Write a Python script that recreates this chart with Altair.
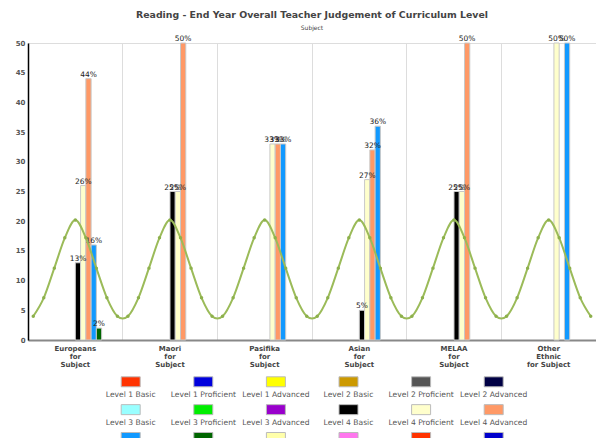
import altair as alt
import pandas as pd

categories = ["Europeans", "Maori", "Pasifika", "Asian", "MELAA", "Other Ethnic"]
series_names = [
    "Level 1 Basic", "Level 1 Proficient", "Level 1 Advanced",
    "Level 2 Basic", "Level 2 Proficient", "Level 2 Advanced",
    "Level 3 Basic", "Level 3 Proficient", "Level 3 Advanced",
    "Level 4 Basic", "Level 4 Proficient", "Level 4 Advanced",
    "Level 5 Basic", "Level 5 Proficient", "Level 5 Advanced",
    "Level 6 Basic", "Level 6 Proficient", "Level 6 Advanced",
]
series_colors = [
    "#ff3300", "#0000dd", "#ffff00", "#cc9900", "#555555", "#000044",
    "#99ffff", "#00ee00", "#9900cc", "#000000", "#ffffcc", "#ff9966",
    "#1199ff", "#006600", "#ffffaa", "#ff77ee", "#ff3300", "#0000cc",
]

# values (percent) per category, only series that have bars
level4_basic = [13, 25, 0, 5, 25, 0]
level4_proficient = [26, 25, 33, 27, 25, 50]
level4_advanced = [44, 50, 33, 32, 50, 0]
level5_basic = [16, 0, 33, 36, 0, 50]
level5_proficient = [2, 0, 0, 0, 0, 0]

# green wavy line (9 points per category)
trend_values = [
    4.0, 7.1, 12.1, 17.2, 20.2, 17.2, 12.1, 7.1, 4.0,
    4.0, 7.1, 12.1, 17.2, 20.2, 17.2, 12.1, 7.1, 4.0,
    4.0, 7.1, 12.1, 17.2, 20.2, 17.2, 12.1, 7.1, 4.0,
    4.0, 7.1, 12.1, 17.2, 20.2, 17.2, 12.1, 7.1, 4.0,
    4.0, 7.1, 12.1, 17.2, 20.2, 17.2, 12.1, 7.1, 4.0,
    4.0, 7.1, 12.1, 17.2, 20.2, 17.2, 12.1, 7.1, 4.0,
]

bar_series = {
    "Level 4 Basic": level4_basic,
    "Level 4 Proficient": level4_proficient,
    "Level 4 Advanced": level4_advanced,
    "Level 5 Basic": level5_basic,
    "Level 5 Proficient": level5_proficient,
}
rows = []
for s, vals in bar_series.items():
    for c, v in zip(categories, vals):
        if v > 0:
            rows.append({"Category": c, "Series": s, "Value": v, "Label": f"{v}%"})
bars_df = pd.DataFrame(rows)

trend_df = pd.DataFrame({"idx": [i + 0.5 for i in range(len(trend_values))],
                         "value": trend_values})

legend_df = pd.DataFrame({
    "Series": series_names,
    "col": [i % 6 for i in range(len(series_names))],
    "row": [i // 6 for i in range(len(series_names))],
})

FONT = "DejaVu Sans"
W, H = 568, 297

color_scale = alt.Scale(domain=series_names, range=series_colors)

x_enc = alt.X(
    "Category:N", sort=categories, title=None,
    scale=alt.Scale(paddingInner=0, paddingOuter=0),
    axis=alt.Axis(
        labelAngle=0, labelFont=FONT, labelFontSize=7, labelFontWeight="bold",
        labelColor="#444", labelLineHeight=8.3, labelPadding=4, ticks=False,
        domainColor="#888", domainWidth=2, grid=True, gridColor="#dddddd",
        gridWidth=1, bandPosition=0,
        labelExpr="datum.label == 'Other Ethnic' ? ['Other', 'Ethnic', 'for Subject'] : [datum.label, 'for', 'Subject']",
    ),
)
xoff_enc = alt.XOffset("Series:N", scale=alt.Scale(domain=series_names, paddingInner=0, paddingOuter=0))
y_enc = alt.Y(
    "Value:Q", title=None,
    scale=alt.Scale(domain=[0, 50], nice=False),
    axis=alt.Axis(values=list(range(0, 51, 5)), grid=False, ticks=False,
                  labelFont=FONT, labelFontSize=7, labelFontWeight="bold",
                  labelColor="#555", labelPadding=3, domainColor="#000",
                  domainWidth=1.5),
)

bars = alt.Chart(bars_df).mark_bar(stroke="#c8c8c8", strokeWidth=1).encode(
    x=x_enc, xOffset=xoff_enc, y=y_enc,
    color=alt.Color("Series:N", scale=color_scale, legend=None),
)
texts = alt.Chart(bars_df).mark_text(
    font=FONT, fontSize=7.5, color="#222", baseline="alphabetic", dy=-2
).encode(x=x_enc, xOffset=xoff_enc, y=y_enc, text="Label:N")

bars_text = alt.layer(bars, texts)

trend = alt.Chart(trend_df).mark_line(
    interpolate="cardinal", color="#9bbb59", strokeWidth=2,
    point=alt.OverlayMarkDef(filled=True, size=12, color="#8db04c"),
).encode(
    x=alt.X("idx:Q", scale=alt.Scale(domain=[0, len(trend_values)], nice=False), axis=None),
    y=alt.Y("value:Q", scale=alt.Scale(domain=[0, 50], nice=False), axis=None),
)

lx = alt.X("col:Q", scale=alt.Scale(domain=[0, 5], range=[102.7, 465.7]), axis=None)
ly = alt.Y("row:Q", scale=alt.Scale(domain=[0, 2], range=[338.8, 394.5]), axis=None)
swatches = alt.Chart(legend_df).mark_point(
    shape="M-1,-0.526L1,-0.526L1,0.526L-1,0.526Z", size=361, filled=True,
    opacity=1, stroke="#bbbbbb", strokeWidth=1,
).encode(x=lx, y=ly, fill=alt.Fill("Series:N", scale=color_scale, legend=None))
legend_labels = alt.Chart(legend_df).mark_text(
    font=FONT, fontSize=7.6, color="#555", baseline="middle", dy=13.5
).encode(x=lx, y=ly, text="Series:N")
legend_layer = alt.layer(swatches, legend_labels)

chart = alt.layer(bars_text, trend, legend_layer).resolve_scale(
    x="independent", y="independent"
).properties(
    width=W, height=H,
    title=alt.TitleParams(
        text="Reading - End Year Overall Teacher Judgement of Curriculum Level",
        subtitle="Subject", font=FONT, fontSize=9.4, fontWeight="bold", color="#444",
        subtitleFont=FONT, subtitleFontSize=6, subtitleColor="#444",
        anchor="middle", offset=3, subtitlePadding=5,
    ),
    padding={"left": 28, "top": 43, "right": 0, "bottom": 98},
    autosize=alt.AutoSizeParams(type="none"),
).configure_view(stroke=None).configure(background="white")

chart.save("out.html", embed_options={"renderer": "svg", "actions": False})
